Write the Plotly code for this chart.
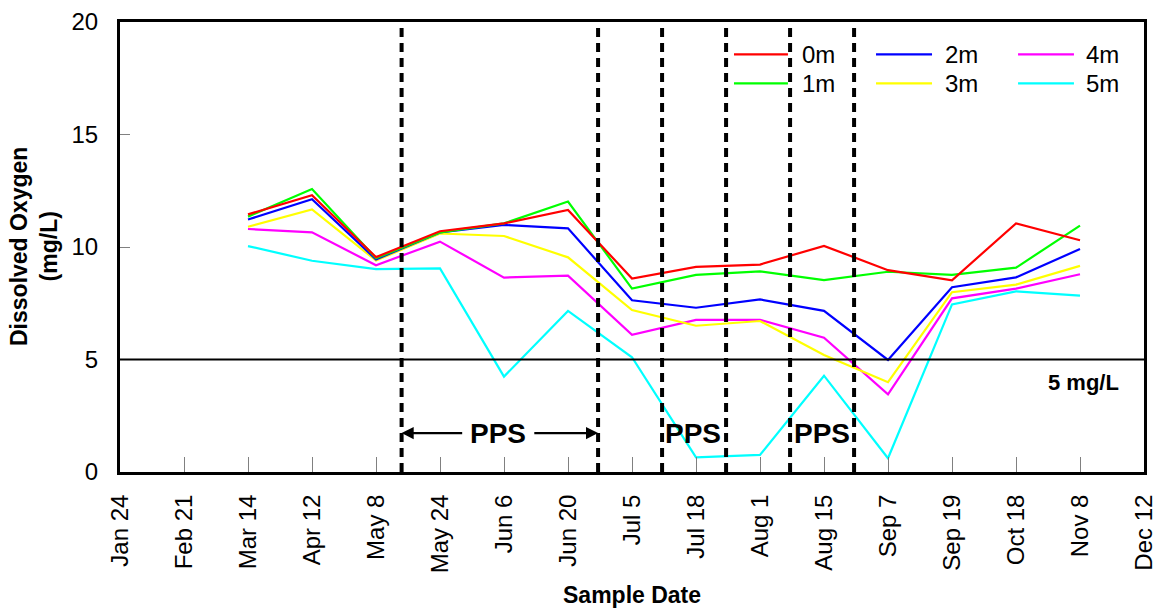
import plotly.graph_objects as go

# Sample dates shown on the category axis
dates = ["Jan 24", "Feb 21", "Mar 14", "Apr 12", "May 8", "May 24", "Jun 6",
         "Jun 20", "Jul 5", "Jul 18", "Aug 1", "Aug 15", "Sep 7", "Sep 19",
         "Oct 18", "Nov 8", "Dec 12"]
sampled = ["Mar 14", "Apr 12", "May 8", "May 24", "Jun 6", "Jun 20", "Jul 5",
           "Jul 18", "Aug 1", "Aug 15", "Sep 7", "Sep 19", "Oct 18", "Nov 8"]

# Dissolved oxygen (mg/L) by depth
do_0m = [11.45, 12.3, 9.55, 10.7, 11.05, 11.65, 8.6, 9.12, 9.22, 10.05, 8.97, 8.52, 11.05, 10.3]
do_1m = [11.35, 12.58, 9.5, 10.65, 11.05, 12.02, 8.15, 8.76, 8.92, 8.53, 8.9, 8.76, 9.08, 10.95]
do_2m = [11.22, 12.12, 9.45, 10.65, 10.98, 10.83, 7.63, 7.3, 7.67, 7.16, 4.98, 8.21, 8.65, 9.91]
do_3m = [10.9, 11.67, 9.4, 10.6, 10.49, 9.54, 7.2, 6.5, 6.71, 5.2, 3.99, 7.99, 8.33, 9.16]
do_4m = [10.8, 10.65, 9.19, 10.24, 8.64, 8.73, 6.1, 6.76, 6.76, 5.97, 3.45, 7.72, 8.15, 8.79]
do_5m = [10.04, 9.39, 9.02, 9.05, 4.24, 7.16, 5.1, 0.65, 0.76, 4.28, 0.61, 7.45, 8.03, 7.84]

depths = ["0m", "1m", "2m", "3m", "4m", "5m"]
series = [do_0m, do_1m, do_2m, do_3m, do_4m, do_5m]
colors = ["#ff0000", "#00ff00", "#0000ff", "#ffff00", "#ff00ff", "#00ffff"]

threshold = 5  # mg/L reference level
# PPS period boundaries, in category-index units
pps_bounds = [4.4, 7.47, 8.47, 9.47, 10.47, 11.47]
pps_labels = [(5.9, "PPS"), (8.95, "PPS"), (10.97, "PPS")]

FONT = "Liberation Sans, Arial, sans-serif"

fig = go.Figure()

# draw deepest first so the surface line sits on top
for name, vals, col in reversed(list(zip(depths, series, colors))):
    fig.add_trace(go.Scatter(x=sampled, y=vals, mode="lines", name=name,
                             line=dict(color=col, width=2.2), showlegend=False))

shapes = []
# 5 mg/L reference line
shapes.append(dict(type="line", xref="x", yref="y", x0=0, x1=16,
                   y0=threshold, y1=threshold,
                   line=dict(color="black", width=2.2)))
# PPS boundaries
for xb in pps_bounds:
    shapes.append(dict(type="line", xref="x", yref="y", x0=xb, x1=xb, y0=0, y1=20,
                       line=dict(color="black", width=4, dash="9px,6px")))

annotations = []
# legend drawn as a 3-column block
leg_cols = [(0.5996, 0.6523, 0.6641), (0.7383, 0.7930, 0.8037), (0.8770, 0.9316, 0.9414)]
leg_rows = [0.9282, 0.8638]
for i, (name, col) in enumerate(zip(depths, colors)):
    c, r = i // 2, i % 2
    x0, x1, xt = leg_cols[c]
    yy = leg_rows[r]
    shapes.append(dict(type="line", xref="paper", yref="paper", x0=x0, x1=x1,
                       y0=yy, y1=yy, line=dict(color=col, width=2.2)))
    annotations.append(dict(xref="paper", yref="paper", x=xt, y=yy, text=name,
                            showarrow=False, xanchor="left", yanchor="middle",
                            font=dict(family=FONT, size=24, color="black")))

for xp, txt in pps_labels:
    annotations.append(dict(xref="x", yref="y", x=xp, y=1.73, text="<b>%s</b>" % txt,
                            showarrow=False, xanchor="center", yanchor="middle",
                            font=dict(family=FONT, size=28, color="black")))

# arrows spanning the first PPS period
annotations.append(dict(xref="x", yref="y", axref="x", ayref="y",
                        x=pps_bounds[0], y=1.73, ax=5.37, ay=1.73, text="",
                        showarrow=True, arrowhead=2, arrowsize=1.1, arrowwidth=2.2,
                        arrowcolor="black"))
annotations.append(dict(xref="x", yref="y", axref="x", ayref="y",
                        x=pps_bounds[1], y=1.73, ax=6.45, ay=1.73, text="",
                        showarrow=True, arrowhead=2, arrowsize=1.1, arrowwidth=2.2,
                        arrowcolor="black"))

annotations.append(dict(xref="x", yref="y", x=15.06, y=4.0, text="<b>5 mg/L</b>",
                        showarrow=False, xanchor="center", yanchor="middle",
                        font=dict(family=FONT, size=22, color="black")))

# axis titles
annotations.append(dict(xref="paper", yref="paper", x=0, y=0.5,
                        text="<b>Dissolved Oxygen<br>(mg/L)</b>", textangle=-90,
                        showarrow=False, xanchor="center", yanchor="middle", xshift=-86,
                        font=dict(family=FONT, size=23, color="black")))
annotations.append(dict(xref="paper", yref="paper", x=0.5, y=0,
                        text="<b>Sample Date</b>", showarrow=False,
                        xanchor="center", yanchor="middle", yshift=-123,
                        font=dict(family=FONT, size=23, color="black")))

fig.update_layout(
    width=1158, height=611,
    margin=dict(l=120, r=14, t=22, b=139, autoexpand=False),
    paper_bgcolor="white", plot_bgcolor="white",
    font=dict(family=FONT, size=24, color="black"),
    shapes=shapes, annotations=annotations,
    xaxis=dict(type="category", categoryorder="array", categoryarray=dates,
               range=[0, 16], tickangle=-90, ticks="inside", ticklen=15,
               tickcolor="#808080", tickwidth=1, showgrid=False, zeroline=False,
               showline=True, linecolor="black", linewidth=3, mirror=True,
               automargin=False, ticklabelstandoff=10, tickfont=dict(size=24)),
    yaxis=dict(range=[0, 20], tickvals=[0, 5, 10, 15, 20], ticks="inside", ticklen=10,
               tickcolor="#808080", tickwidth=1, showgrid=False, zeroline=False,
               showline=True, linecolor="black", linewidth=3, mirror=True,
               automargin=False, ticklabelstandoff=14, tickfont=dict(size=24)),
)

fig.write_html("out.html")
